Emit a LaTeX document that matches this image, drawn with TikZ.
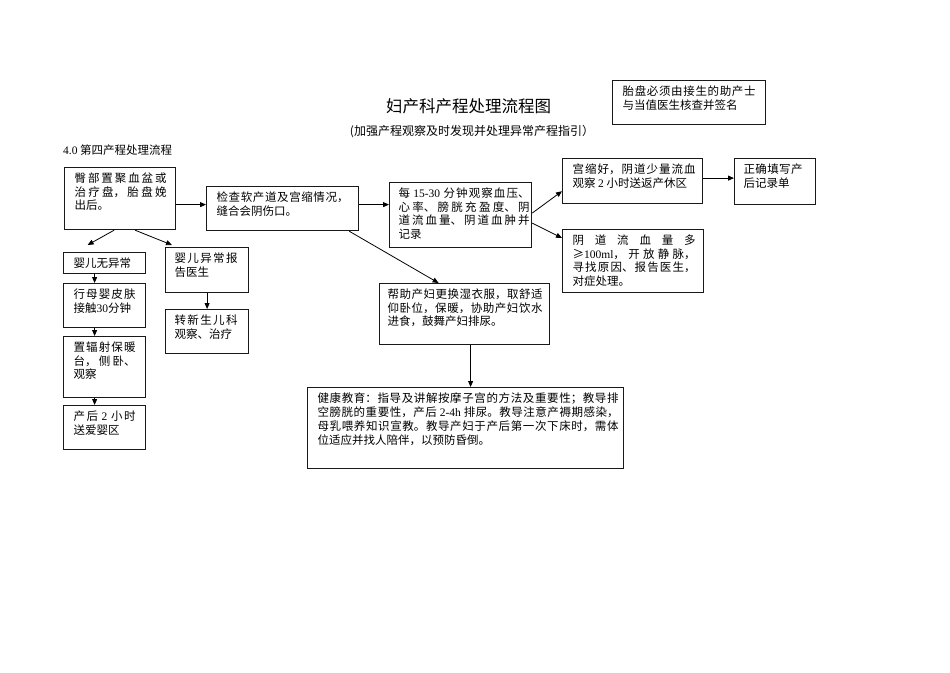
\documentclass[tikz,border=0pt]{standalone}
\usepackage{fontspec}
\setmainfont{Noto Sans CJK SC}
\newfontfamily\latinfont{Liberation Serif}
\usetikzlibrary{arrows.meta}

\XeTeXlinebreaklocale "zh"
\XeTeXlinebreakskip=0pt plus 2pt
\lineskiplimit=-5pt
\newcommand\num[1]{{\latinfont #1}}
% box text: width, height, left pad, right pad, text
\newcommand\bx[5]{\parbox[c][#2pt][t]{#1pt}{\leftskip=#3pt\rightskip=#4pt\relax\rule{0pt}{15pt}#5}}

\begin{document}
\begin{tikzpicture}[
    x=1pt,
    y=-1pt,
    every node/.style={font=\fontsize{11.5}{13.5}\selectfont},
    box/.style={draw=black!90, line width=1.2pt, inner sep=0pt, anchor=north west},
    arr/.style={-{Triangle[length=6pt,width=5pt]}, line width=0.8pt}
  ]
    \useasboundingbox (0,0) rectangle (950,672);

    \node[font=\fontsize{16.5}{18}\selectfont] (title) at (468.5,106) {妇产科产程处理流程图};
    \node[font=\fontsize{12}{13}\selectfont] (subtitle) at (472,132) {(加强产程观察及时发现并处理异常产程指引）};
    \node[anchor=west, inner sep=0pt] (stage) at (63,150) {\num{4.0} 第四产程处理流程};

    \node[box] (note) at (612,80) {\bx{153}{44}{10}{10}{胎盘必须由接生的助产士\linebreak 与当值医生核查并签名}};

    % main line
    \node[box] (placenta) at (64,167) {\bx{111}{62}{10}{9}{臀部置聚血盆或\linebreak 治疗盘，胎盘娩\linebreak 出后。}};
    \node[box] (suture) at (206,186) {\bx{152}{44}{10}{10}{检查软产道及宫缩情况，\linebreak 缝合会阴伤口。}};
    \node[box] (observe) at (389,182) {\bx{142}{65}{9}{2}{每 \num{15-30} 分钟观察血压、\linebreak 心率、膀胱充盈度、阴\linebreak 道流血量、阴道血肿并\linebreak 记录}};
    \node[box] (normal) at (562,158) {\bx{140}{45}{10}{7}{宫缩好，阴道少量流血\linebreak 观察 \num{2} 小时送返产休区}};
    \node[box] (record) at (734,158) {\bx{81}{46}{9}{13}{正确填写产\linebreak 后记录单}};
    \node[box] (bleed) at (562,229) {\bx{141}{63}{10}{8}{阴道流血量多\linebreak ≥\num{100ml}，开放静脉，\linebreak 寻找原因、报告医生，\linebreak 对症处理。}};
    \node[box] (care) at (379,283) {\bx{170}{61}{8}{7}{帮助产妇更换湿衣服，取舒适\linebreak 仰卧位，保暖，协助产妇饮水\linebreak 进食，鼓舞产妇排尿。}};
    \node[box, font=\fontsize{11.5}{13.8}\selectfont] (teach) at (307,387) {\bx{316}{81}{10}{5}{健康教育：指导及讲解按摩子宫的方法及重要性；教导排\linebreak 空膀胱的重要性，产后 \num{2-4h} 排尿。教导注意产褥期感染，\linebreak 母乳喂养知识宣教。教导产妇于产后第一次下床时，需体\linebreak 位适应并找人陪伴，以预防昏倒。}};

    % baby
    \node[box] (babyok) at (63,252) {\bx{82}{21}{10}{9}{婴儿无异常}};
    \node[box] (skin) at (63,283) {\bx{82}{44}{10}{10}{行母婴皮肤\linebreak 接触\num{30}分钟}};
    \node[box] (warmer) at (63,336) {\bx{82}{61}{10}{10}{置辐射保暖\linebreak 台，侧卧、\linebreak 观察}};
    \node[box] (ward) at (63,405) {\bx{82}{44}{10}{10}{产后 \num{2} 小时\linebreak 送爱婴区}};
    \node[box] (babybad) at (165,247) {\bx{83}{45}{9}{11}{婴儿异常报\linebreak 告医生}};
    \node[box] (nicu) at (165,309) {\bx{83}{44}{9}{11}{转新生儿科\linebreak 观察、治疗}};

    \draw[arr] ([yshift=-6pt]placenta.east) -- ([yshift=-6pt]placenta.east -| suture.west);
    \draw[arr] ([yshift=4pt]suture.east) -- ([yshift=4pt]suture.east -| observe.west);
    \draw[arr] ([yshift=2pt]observe.east) -- ([yshift=13pt]normal.south west);
    \draw[arr] ([yshift=-8pt]observe.east) -- ([yshift=-9pt]bleed.north west);
    \draw[arr] ([yshift=3pt]normal.east) -- ([yshift=3pt]normal.east -| record.west);
    \draw[arr] ([xshift=-10pt]suture.south east) -- ([xshift=-26pt]care.north);
    \draw[arr] ([xshift=6pt]care.south) -- ([xshift=6pt]care.south |- teach.north);

    \draw[arr] ([xshift=-6pt]placenta.south) -- ([xshift=-17pt,yshift=7pt]babyok.north);
    \draw[arr] ([xshift=15pt]placenta.south) -- ([xshift=7pt,yshift=2pt]babybad.north west);
    \draw[arr] ([xshift=-10pt]babyok.south) -- ([xshift=-10pt]skin.north);
    \draw[arr] ([xshift=-10pt]skin.south) -- ([xshift=-10pt]warmer.north);
    \draw[arr] ([xshift=-10pt]warmer.south) -- ([xshift=-10pt]ward.north);
    \draw[arr] (babybad.south) -- (nicu.north);
  \end{tikzpicture}
\end{document}
